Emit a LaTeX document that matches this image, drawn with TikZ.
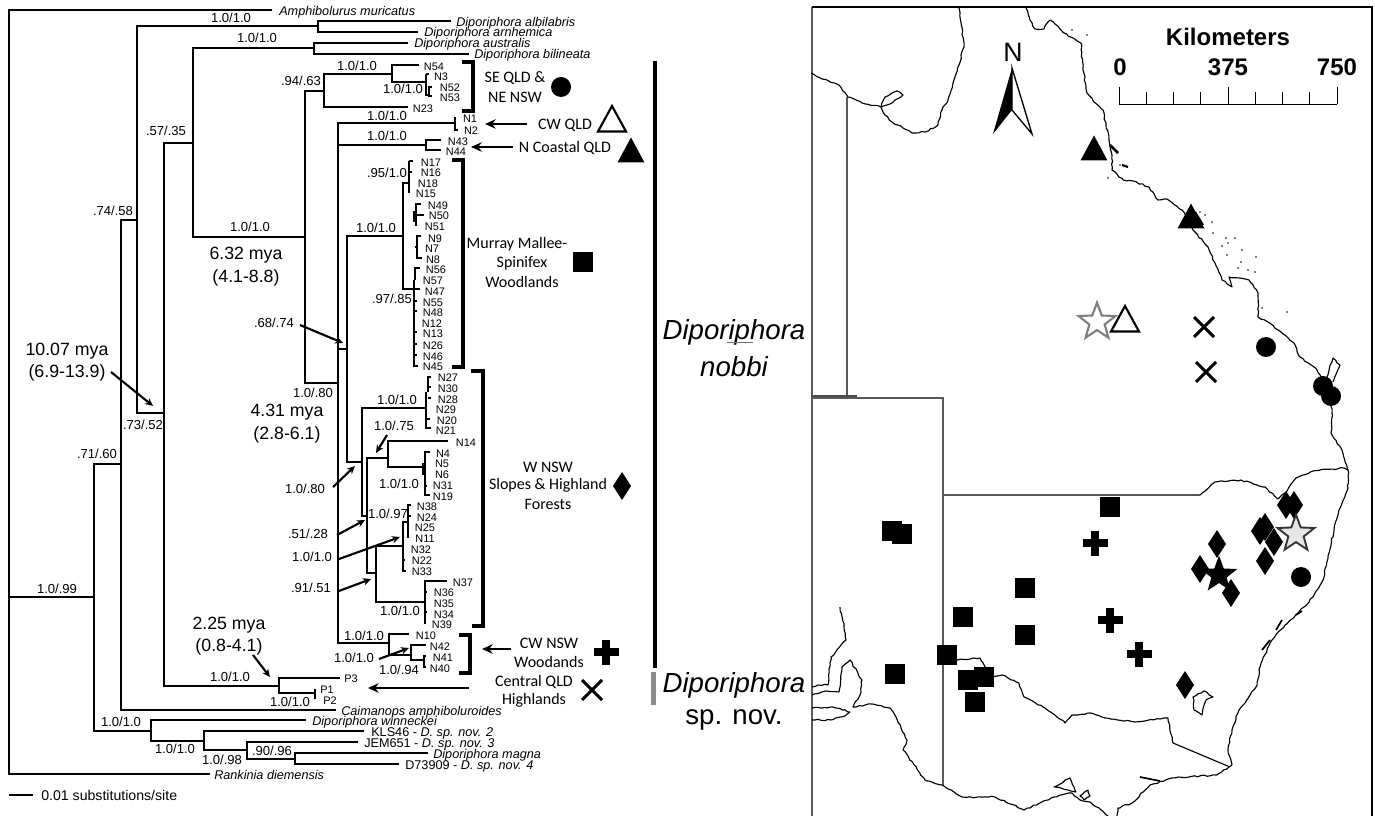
\documentclass[tikz,border=0pt]{standalone}
\usepackage{fontspec}
\setmainfont{Liberation Sans}
\newfontfamily\myr{Carlito}
\usetikzlibrary{arrows.meta,shapes.geometric,decorations.pathmorphing}
\pgfmathsetseed{7}
\tikzset{
  branch/.style={line width=1.6pt,line cap=rect},
  leaf/.style={line width=1.3pt},
  sup/.style={font=\fontsize{9.8}{10}\selectfont,inner sep=0pt},
  tax/.style={font=\fontsize{9.5}{10}\selectfont\itshape,inner sep=0pt,anchor=west},
  taxr/.style={font=\fontsize{9.5}{10}\selectfont,inner sep=0pt,anchor=west},
  nlab/.style={font=\fontsize{8.2}{9}\selectfont,inner sep=0pt},
  age/.style={font=\fontsize{13.3}{14}\selectfont,inner sep=0pt},
  region/.style={font=\myr\fontsize{12}{13}\selectfont,inner sep=0pt},
  bigname/.style={font=\fontsize{20.7}{22}\selectfont,inner sep=0pt},
  brace/.style={line width=2.6pt},
  arr/.style={line width=1.8pt,-{Stealth[length=8pt,width=7pt]}},
  arrthin/.style={line width=1.6pt,-{Stealth[length=6pt,width=5.5pt]}},
  coast/.style={line width=.85pt,line join=round,black,decorate,decoration={random steps,segment length=2.4pt,amplitude=.55pt}},
  border/.style={line width=.8pt,black!65},
  sq/.style={fill=black,inner sep=0pt,minimum size=15pt,shape=rectangle},
  dot/.style={fill=black,inner sep=0pt,minimum size=15pt,shape=circle},
  starbase/.style={shape=star,star points=5,star point ratio=2.4,inner sep=0pt,minimum size=29pt},
  kmfont/.style={font=\fontsize{18}{19}\selectfont\bfseries,inner sep=0pt},
}
\newcommand\brn[4]{\coordinate (#2) at (#3,#4); \draw[branch] (#1) |- (#2);}
\newcommand\ptri[3][black]{\fill[#1] (#2-13.5,#3+12.5) -- (#2,#3-12.5) -- (#2+13.5,#3+12.5) -- cycle;}
\newcommand\otri[2]{\draw[line width=1.6pt,fill=white] (#1-14,#2+12.5) -- (#1,#2-13) -- (#1+14,#2+12.5) -- cycle;}
\newcommand\pdia[2]{\fill (#1,#2-14) -- (#1+9,#2) -- (#1,#2+14) -- (#1-9,#2) -- cycle;}
\newcommand\pplus[2]{\fill (#1-4,#2-12.5) rectangle (#1+4,#2+12.5); \fill (#1-12.5,#2-4) rectangle (#1+12.5,#2+4);}
\newcommand\pcross[2]{\draw[line width=2.2pt] (#1-10,#2-10) -- (#1+10,#2+10) (#1-10,#2+10) -- (#1+10,#2-10);}
\begin{document}
\begin{tikzpicture}[x=0.75pt,y=-0.75pt]
\fill[white] (0,0) rectangle (1375,816);
\useasboundingbox (0,0) rectangle (1375,816);
% ===== tree =====
\coordinate (r) at (9,597);
\brn{r}{amph}{271}{10}
\brn{r}{rank}{209}{774}
\brn{r}{n94}{94}{597}
\brn{n94}{n121}{121}{464}
\brn{n94}{n151}{151}{731}
\brn{n121}{n137}{137}{220}
\brn{n121}{caim}{335}{710}
\brn{n137}{n318}{318}{26}
\brn{n137}{n164}{164}{413}
\brn{n318}{albi}{450}{21}
\brn{n318}{arnh}{417}{32}
\brn{n164}{n193}{193}{143}
\brn{n164}{n279}{279}{686}
\brn{n193}{n314}{314}{48}
\brn{n193}{n305}{305}{237}
\brn{n314}{aust}{407}{43}
\brn{n314}{bili}{468}{54}
\brn{n305}{n324}{324}{91}
\brn{n305}{n338}{338}{383}
\brn{n324}{n392}{392}{74}
\brn{n324}{tN23}{407}{107}
\brn{n392}{tN54}{418}{65}
\brn{n392}{n426}{426}{82}
\brn{n338}{n455}{455}{123}
\brn{n338}{n426b}{426}{145}
\brn{n426b}{tN43}{440}{140}
\brn{n426b}{tN44}{440}{150}
\brn{n338}{n347}{347}{349}
\brn{n338}{n389}{389}{643}
\brn{n347}{n403}{403}{236}
\brn{n347}{n362}{362}{462}
\brn{n403}{n409}{409}{183}
\brn{n403}{n414}{414}{289}
\brn{n362}{n426c}{426}{408}
\brn{n362}{n367}{367}{516}
\brn{n367}{n388}{388}{458}
\brn{n367}{n376}{376}{573}
\brn{n388}{tN14}{447}{441}
\brn{n388}{n425}{425}{467}
\brn{n376}{n403b}{403}{546}
\brn{n376}{n425b}{425}{602}
\brn{n403b}{n408}{408}{522}
\brn{n425b}{tN37}{446}{581}
\brn{n389}{tN10}{408}{634}
\brn{n389}{n411}{411}{655}
\brn{n411}{tN42}{425}{645}
\brn{n411}{n424}{424}{660}
\brn{n279}{tP3}{339}{678}
\brn{n279}{n315}{315}{693}
\brn{n151}{winn}{305}{720}
\brn{n151}{n204}{204}{741}
\brn{n204}{kls}{363}{731}
\brn{n204}{n247}{247}{750}
\brn{n247}{jem}{357}{742}
\brn{n247}{n295}{295}{759}
\brn{n295}{magn}{427}{753}
\brn{n295}{d739}{398}{764}
% terminal clusters
\draw[leaf] (426,74) -- (429,74) (426,74) -- (426,95) -- (428,95);
\draw[leaf] (432,87) -- (429,87) -- (429,96) -- (432,96);
\draw[leaf] (455,117) -- (455,130) -- (458,130);
\draw[leaf] (409,161) -- (409,193) (409,161) -- (413,161) (409,172) -- (412,172);
\draw[leaf] (421,204) -- (416,204) -- (416,226) (416,215) -- (424,215);
\draw[line width=2.4pt] (415,211) -- (415,222);
\draw[leaf] (421,236) -- (417,236) -- (417,258) -- (422,258) (415,247) -- (417,247);
\draw[leaf] (420,268) -- (415,268) -- (415,280);
\draw[leaf] (414,280) -- (414,366) -- (418,366) (414,289) -- (420,289) (414,301) -- (417,301) (414,311) -- (417,311) (414,332) -- (417,332) (414,344) -- (417,344) (414,355) -- (417,355);
\draw[leaf] (431,377) -- (428,377) -- (428,392) (428,387) -- (431,387) (426,392) -- (426,428) -- (431,428) (426,419) -- (430,419) (428,398) -- (431,398);
\draw[leaf] (430,452) -- (425,452) -- (425,495) -- (430,495) (425,486) -- (427,486);
\draw[line width=2.4pt] (424,463) -- (424,475);
\draw[leaf] (411,505) -- (408,505) -- (408,538) (408,516) -- (411,516);
\draw[leaf] (403,522) -- (403,571) -- (406,571) (403,560) -- (405,560);
\draw[leaf] (425,581) -- (425,624) (425,592) -- (427,592) (425,612) -- (427,612);
\draw[leaf] (426,656) -- (424,656) -- (424,667) -- (426,667);
\draw[leaf] (315,689) -- (315,699);
% taxon names
\node[tax] (lAmph) at (279,12) {Amphibolurus muricatus};
\node[tax] (lAlbi) at (456,23) {Diporiphora albilabris};
\node[tax] (lArnh) at (424,33) {Diporiphora arnhemica};
\node[tax] (lAust) at (414,44) {Diporiphora australis};
\node[tax] (lBili) at (474,55) {Diporiphora bilineata};
\node[tax] (lCaim) at (341,712) {Caimanops amphiboluroides};
\node[tax] (lWinn) at (312,722) {Diporiphora winneckei};
\node[taxr] (lKls) at (371,733) {KLS46 - \textit{D. sp. nov. 2}};
\node[taxr] (lJem) at (364,744) {JEM651 - \textit{D. sp. nov. 3}};
\node[tax] (lMagn) at (433,755) {Diporiphora magna};
\node[taxr] (lD73) at (405,766) {D73909 - \textit{D. sp. nov. 4}};
\node[tax] (lRank) at (214,775) {Rankinia diemensis};
\foreach \t/\x/\y in {N54/434/67,N3/441/77,N52/450/88,N53/450/98,N23/423/109,N1/470/119,N2/471/131,N43/458/142,N44/456/152,
 N17/431/163,N16/431/173,N18/428/184,N15/426/194,N49/438/206,N50/439/216,N51/435/227,N9/435/239,N7/432/249,N8/433/260,N56/436/270,N57/433/281,N47/435/292,N55/433/303,N48/433/313,N12/432/324,N13/433/334,N26/433/346,N46/433/357,N45/433/367,
 N27/448/378,N30/448/389,N28/448/400,N29/446/410,N20/447/421,N21/446/431,N14/466/443,N4/443/454,N5/442/464,N6/442/475,N31/443/486,N19/443/497,N38/427/507,N24/427/518,N25/425/528,N11/425/539,N32/421/550,N22/422/561,N33/422/572,N37/463/583,N36/444/593,N35/444/604,N34/444/615,N39/442/625,
 N10/426/636,N42/440/647,N41/443/658,N40/440/669,P3/351/679,P1/327/690,P2/330/701}
 {\node[nlab] (l\t) at (\x,\y) {\t};}
% support values
\node[sup] (s1) at (231,18) {1.0/1.0};
\node[sup] (s2) at (257,38) {1.0/1.0};
\node[sup] (s3) at (357,66) {1.0/1.0};
\node[sup] (s4) at (301,81) {.94/.63};
\node[sup] (s5) at (403,89) {1.0/1.0};
\node[sup] (s6) at (387,116) {1.0/1.0};
\node[sup] (s7) at (387,136) {1.0/1.0};
\node[sup] (s8) at (387,173) {.95/1.0};
\node[sup] (s9) at (166,131) {.57/.35};
\node[sup] (s10) at (113,211) {.74/.58};
\node[sup] (s11) at (250,227) {1.0/1.0};
\node[sup] (s12) at (376,228) {1.0/1.0};
\node[sup] (s13) at (392,299) {.97/.85};
\node[sup] (s14) at (274,323) {.68/.74};
\node[sup] (s15) at (313,393) {1.0/.80};
\node[sup] (s16) at (397,400) {1.0/1.0};
\node[sup] (s17) at (394,426) {1.0/.75};
\node[sup] (s18) at (399,484) {1.0/1.0};
\node[sup] (s19) at (305,489) {1.0/.80};
\node[sup] (s20) at (388,514) {1.0/.97};
\node[sup] (s21) at (308,534) {.51/.28};
\node[sup] (s22) at (312,557) {1.0/1.0};
\node[sup] (s23) at (311,588) {.91/.51};
\node[sup] (s24) at (400,611) {1.0/1.0};
\node[sup] (s25) at (143,425) {.73/.52};
\node[sup] (s26) at (97,454) {.71/.60};
\node[sup] (s27) at (57,589) {1.0/.99};
\node[sup] (s28) at (364,636) {1.0/1.0};
\node[sup] (s29) at (354,658) {1.0/1.0};
\node[sup] (s30) at (399,670) {1.0/.94};
\node[sup] (s31) at (230,677) {1.0/1.0};
\node[sup] (s32) at (290,702) {1.0/1.0};
\node[sup] (s33) at (121,722) {1.0/1.0};
\node[sup] (s34) at (175,749) {1.0/1.0};
\node[sup] (s35) at (222,760) {1.0/.98};
\node[sup] (s36) at (272,751) {.90/.96};
% ages
\node[age] (a1) at (246,255) {6.32 mya};
\node[age] (a1b) at (246,278) {(4.1-8.8)};
\node[age] (a2) at (287,412) {4.31 mya};
\node[age] (a2b) at (287,435) {(2.8-6.1)};
\node[age] (a3) at (67,351) {10.07 mya};
\node[age] (a3b) at (67,373) {(6.9-13.9)};
\node[age] (a4) at (229,625) {2.25 mya};
\node[age] (a4b) at (229,647) {(0.8-4.1)};
% scale
\coordinate (sb1) at (9,795); \coordinate (sb2) at (33,795);
\draw[line width=1.5pt] (sb1) -- (sb2);
\node[font=\fontsize{10.6}{11}\selectfont,inner sep=0pt,anchor=west] (sbl) at (41,795) {0.01 substitutions/site};
% arrows from labels
\coordinate (e1) at (343,343); \coordinate (b1) at (300,325);
\coordinate (e2) at (376,453); \coordinate (b2) at (387,435);
\coordinate (e3) at (355,466); \coordinate (b3) at (333,487);
\coordinate (e4) at (365,520); \coordinate (b4) at (337,535);
\coordinate (e5) at (400,537); \coordinate (b5) at (339,559);
\coordinate (e6) at (371,579); \coordinate (b6) at (339,591);
\coordinate (e7) at (409,648); \coordinate (b7) at (379,659);
\coordinate (e8) at (270,677); \coordinate (b8) at (253,655);
\coordinate (e9) at (153,406); \coordinate (b9) at (111,372);
\foreach \i in {1,...,9} {\draw[arrthin] (b\i) -- (e\i);}
\coordinate (c1) at (527,124); \coordinate (d1) at (485,124);
\coordinate (c2) at (513,147); \coordinate (d2) at (471,147);
\coordinate (c3) at (511,649); \coordinate (d3) at (482,649);
\coordinate (c4) at (469,688); \coordinate (d4) at (368,688);
\foreach \i in {1,...,4} {\draw[arr] (c\i) -- (d\i);}
% brackets
\draw[brace] (462,62) -- (473,62) -- (473,111) -- (462,111);
\draw[brace] (452,160) -- (463,160) -- (463,367) -- (452,367);
\draw[brace] (471,371) -- (483,371) -- (483,626) -- (472,626);
\draw[brace] (459,635) -- (470,635) -- (470,673) -- (459,673);
% region labels and legend
\node[region] (rSe) at (515,78) {SE QLD \&};
\node[region] (rNe) at (515,97) {NE NSW};
\node[dot] (mC) at (561,87) {};
\node[region] (rCw) at (565,125) {CW QLD};
\otri{612}{119}
\node[region] (rNc) at (565,148) {N Coastal QLD};
\ptri{631}{150}
\node[region] (rMu) at (517,244) {Murray Mallee-};
\node[region] (rSp) at (522,263) {Spinifex};
\node[region] (rWo) at (522,282) {Woodlands};
\node[sq] (mS) at (583,262) {};
\node[region] (rW) at (548,467) {W NSW};
\node[region] (rSl) at (548,485) {Slopes \& Highland};
\node[region] (rFo) at (548,504) {Forests};
\pdia{622}{486}
\node[region] (rCn) at (549,643) {CW NSW};
\node[region] (rWd) at (549,662) {Woodands};
\pplus{606}{652}
\node[region] (rCq) at (534,682) {Central QLD};
\node[region] (rHi) at (534,700) {Highlands};
\pcross{592}{690}
% bars
\coordinate (bar1) at (655,61); \coordinate (bar2) at (655,668);
\draw[line width=3.5pt] (bar1) -- (bar2);
\coordinate (bar3) at (653.5,672); \coordinate (bar4) at (653.5,705);
\draw[line width=3.5pt,black!45] (bar3) -- (bar4);
\node[bigname] (nm1) at (734,332) {\itshape Diporiphora};
\draw[line width=.5pt,black!55] (727,342) -- (753,342);
\node[bigname] (nm2) at (734,367) {\itshape nobbi};
\node[bigname] (nm3) at (734,685) {\itshape Diporiphora};
\node[bigname] (nm4) at (734,720) {sp. nov.};
% ===== map =====
\draw[line width=.8pt,black!65] (812,7) -- (812,816);
\draw[line width=.8pt] (812,7) -- (1372,7) -- (1372,816);
\draw[border] (847,97) -- (847,396);
\draw[line width=1pt,black!70] (812,396) -- (857,396);
\draw[border] (812,398) -- (943,398) -- (943,785);
\draw[border] (943,495) -- (1200,495);
\draw[line width=.85pt] (1173,743) -- (1230,767);
\draw[coast] (811,73) -- (822,79) -- (839,85) -- (848,97) -- (862,103) -- (881,107) -- (883,112) -- (885,115) -- (892,122) -- (912,133) -- (925,132) -- (938,125) -- (942,110) -- (948,100) -- (954,80) -- (964,47) -- (959,8);
\draw[coast] (881,107) -- (885,97) -- (897,91) -- (903,95) -- (890,104) -- cycle;
\draw[coast] (1026,8) -- (1030,20) -- (1035,29) -- (1044,29) -- (1048,22) -- (1050,20) -- (1055,24) -- (1061,30) -- (1068,36) -- (1081,43) -- (1083,67) -- (1087,93) -- (1094,102) -- (1103,110) -- (1106,125) -- (1109,140) -- (1112,155) -- (1112,170) -- (1123,180) -- (1133,181) -- (1149,187) -- (1158,200) -- (1167,199) -- (1182,210) -- (1193,230) -- (1208,247) -- (1215,263) -- (1222,280) -- (1232,287) -- (1229,277) -- (1240,278) -- (1249,280) -- (1258,293) -- (1258,317) -- (1268,322) -- (1278,330) -- (1294,343) -- (1300,357) -- (1317,370) -- (1329,390) -- (1332,413) -- (1331,433) -- (1342,450) -- (1348,470);
\draw[coast] (1348,470) -- (1348,488) -- (1339,510) -- (1334,530) -- (1329,553) -- (1323,580) -- (1313,597) -- (1298,613) -- (1285,625) -- (1272,640) -- (1261,663) -- (1256,687) -- (1239,710) -- (1232,730) -- (1228,750) -- (1232,765);
\draw[coast] (1232,765) -- (1229,767) -- (1217,775) -- (1172,778) -- (1150,785) -- (1132,803) -- (1118,808) -- (1117,816);
\draw[coast] (1327,377) -- (1333,358) -- (1340,365) -- (1333,382);
\draw[coast] (1108,816) -- (1101,810) -- (1090,802) -- (1080,800) -- (1072,793) -- (1054,797) -- (1024,810) -- (995,797) -- (962,797) -- (942,785) -- (925,780) -- (903,750) -- (907,740) -- (896,717) -- (890,708) -- (872,704) -- (853,707) -- (860,695) -- (862,680) -- (850,660) -- (842,667) -- (839,692) -- (826,691) -- (812,695);
\draw[coast] (812,687) -- (818,685) -- (828,685) -- (831,657) -- (846,640) -- (844,627) -- (840,607);
\draw[coast] (812,708) -- (833,707) -- (850,712) -- (845,716) -- (831,720) -- (812,720);
\draw[coast] (943,658) -- (958,660) -- (980,658) -- (991,677) -- (1002,675) -- (1019,683) -- (1024,697) -- (1043,707) -- (1065,723) -- (1072,715) -- (1090,713) -- (1105,718) -- (1135,722) -- (1168,718) -- (1173,743);
\draw[coast] (1200,495) -- (1215,482) -- (1241,480) -- (1265,487) -- (1278,499) -- (1285,493) -- (1296,478) -- (1313,471) -- (1344,468) -- (1348,470);
\draw[coast] (1204,691) -- (1213,697) -- (1206,700) -- (1202,715) -- (1194,710) -- (1193,697) -- cycle;
\draw[coast] (1054,787) -- (1070,778) -- (1076,792) -- (1068,790) -- cycle;
\draw[coast] (1080,796) -- (1088,790) -- (1090,796) -- (1084,800) -- cycle;
\foreach \a/\b in {1213/233,1226/238,1222/246,1228/243,1235/238,1227/255,1241/262,1242/250,1238/268,1256/257,1248/270,1255/272,1287/312,1262/308,1072/30,1087/35,1098/155,1120/165,1108/178,1212/222,1205/215,1200/212}
  {\fill (\a,\b) circle (.9);}
\draw[line width=2pt] (1110,145) -- (1118,153);
\draw[line width=1.6pt] (1195,212) -- (1203,225);
\draw[line width=1.6pt] (1122,165) -- (1128,167);
\draw[line width=1.3pt] (1140,777) -- (1160,781);
\draw[line width=1.3pt] (1276,630) -- (1282,620) (1262,650) -- (1270,640) (1296,615) -- (1302,611);
% north arrow
\node[font=\fontsize{20}{21}\selectfont,inner sep=0pt] (northN) at (1013,52) {N};
\fill (1012,68) -- (993,134) -- (1012,110) -- cycle;
\draw[line width=1pt] (1012,68) -- (1032,134) -- (1012,110) -- cycle;
% scale bar
\node[kmfont] (km) at (1228,37) {Kilometers};
\node[kmfont] (k0) at (1120,67) {0};
\node[kmfont] (k1) at (1228,67) {375};
\node[kmfont] (k2) at (1337,67) {750};
\draw[line width=.7pt] (1119,104) -- (1337,104);
\foreach \k in {0,1,...,8} {\pgfmathsetmacro\tx{1119+27.25*\k}\draw[line width=.7pt] (\tx,104) -- (\tx,92);}
\draw[line width=.7pt] (1119,104) -- (1119,87) (1228,104) -- (1228,87) (1337,104) -- (1337,87);
% sample symbols
\ptri{1094}{148}
\ptri{1191}{216}
\otri{1125}{319}
\node[starbase,draw=black!50,line width=1.6pt,fill=white] (st1) at (1097,322) {};
\pcross{1204}{327}
\pcross{1206}{372}
\foreach \a/\b [count=\i] in {1266/347,1323/386,1331/396,1301/577} {\node[dot] (c\i) at (\a,\b) {};}
\foreach \a/\b [count=\i] in {1110/507,892/531,902/534,1025/588,963/617,1025/635,947/655,895/674,968/680,984/677,975/702} {\node[sq] (q\i) at (\a,\b) {};}
\pplus{1095}{543}
\pplus{1110}{620}
\pplus{1139}{654}
\pdia{1286}{505}
\pdia{1294}{505}
\pdia{1260}{531}
\pdia{1265}{527}
\pdia{1274}{542}
\pdia{1265}{561}
\pdia{1217}{544}
\pdia{1200}{569}
\pdia{1231}{593}
\pdia{1185}{685}
\node[starbase,fill=black] (st2) at (1219,575) {};
\node[starbase,draw=black!80,line width=1.4pt,fill=black!10] (st3) at (1296,534) {};
\end{tikzpicture}
\end{document}
